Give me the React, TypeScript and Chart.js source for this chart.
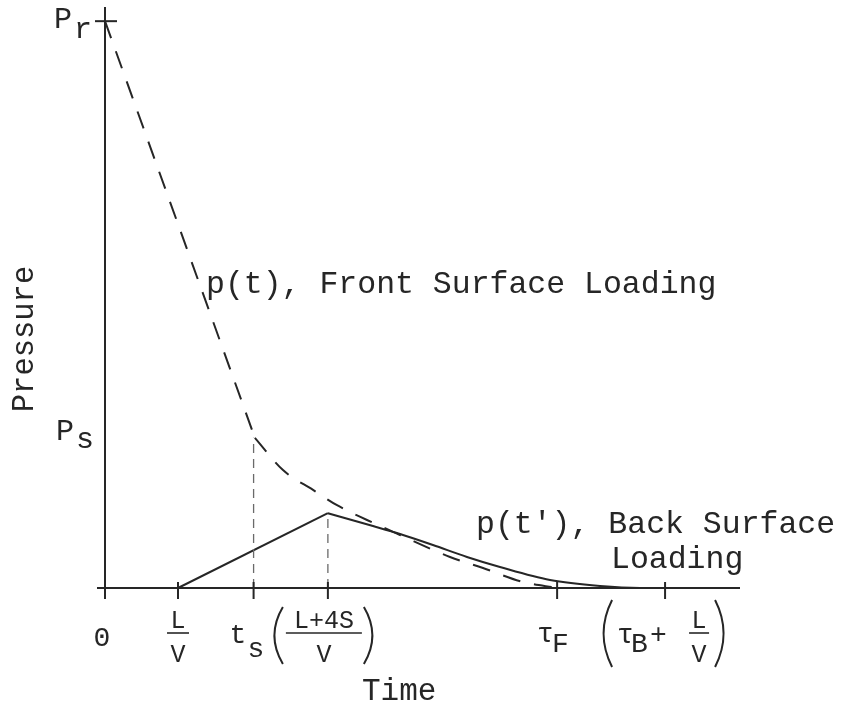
import React, { useEffect, useRef } from "react";
import { Chart, registerables } from "chart.js";

Chart.register(...registerables);

// ---- data (time in arbitrary units, pressure normalised to P_r = 1) ----
const xTickValues = [0, 1.15, 2.34, 3.51, 7.12, 8.82]; // 0, L/V, t_s, (L+4S)/V, τF, τB+L/V
const pressureR = 1.0;
const pressureS = 0.265;

// p(t), front surface loading (dashed)
const frontUpperT = [0, 2.36];
const frontUpperP = [1.0, 0.265];
const frontLowerT = [2.36, 2.803, 3.276, 3.654, 4.126, 4.646, 5.433, 5.953, 6.583, 7.12];
const frontLowerP = [0.265, 0.208, 0.173, 0.146, 0.12, 0.0935, 0.0547, 0.0353, 0.0106, 0];

// p(t'), back surface loading (solid)
const backRiseT = [1.15, 3.51];
const backRiseP = [0, 0.132];
const backDecayT = [3.51, 4.22, 4.646, 5.165, 5.7, 6.22, 7.008, 7.795, 8.425, 8.82];
const backDecayP = [0.132, 0.1093, 0.0952, 0.0758, 0.0547, 0.037, 0.0141, 0.0035, 0, 0];

// guide lines
const guideTsT = [2.34, 2.34];
const guideTsP = [0, 0.265];
const guidePeakT = [3.51, 3.51];
const guidePeakP = [0, 0.132];

const X_MIN = 0;
const X_MAX = 10;
const Y_MIN = 0;
const Y_MAX = 1.025;

const FONT = "'Liberation Mono', 'DejaVu Sans Mono', monospace";
const INK = "#262626";

const pts = (xs: number[], ys: number[]) => xs.map((x, i) => ({ x, y: ys[i] }));

const annotationPlugin = {
  id: "diagramAnnotations",
  afterDraw(chart: any) {
    const ctx: CanvasRenderingContext2D = chart.ctx;
    const xs = chart.scales.x;
    const ys = chart.scales.y;
    const X = (v: number) => xs.getPixelForValue(v);
    const Y = (v: number) => ys.getPixelForValue(v);
    const x0 = X(0);
    const y0 = Y(0);

    const line = (ax: number, ay: number, bx: number, by: number) => {
      ctx.beginPath();
      ctx.moveTo(ax, ay);
      ctx.lineTo(bx, by);
      ctx.stroke();
    };
    const text = (s: string, x: number, y: number, size: number, align: CanvasTextAlign = "left") => {
      ctx.font = `${size}px ${FONT}`;
      ctx.textAlign = align;
      ctx.textBaseline = "alphabetic";
      ctx.fillText(s, x, y);
    };
    const paren = (x: number, top: number, bottom: number, dir: number) => {
      ctx.beginPath();
      ctx.moveTo(x, top);
      ctx.quadraticCurveTo(x + dir * 17, (top + bottom) / 2, x, bottom);
      ctx.stroke();
    };
    const frac = (num: string, den: string, cx: number, barW: number, size: number) => {
      text(num, cx, 628, size, "center");
      ctx.lineWidth = 1.6;
      line(cx - barW / 2, 633, cx + barW / 2, 633);
      text(den, cx, 662, size, "center");
    };

    ctx.save();
    ctx.strokeStyle = INK;
    ctx.fillStyle = INK;
    ctx.lineWidth = 2;

    // axes
    line(X(-0.126), y0, X(X_MAX), y0);
    line(x0, Y(Y_MAX), x0, y0 + 2);
    // P_r tick
    line(x0 - 10, Y(pressureR), x0 + 12, Y(pressureR));
    // time ticks
    xTickValues.forEach((t) => line(X(t), y0 - 6, X(t), y0 + 11));

    // y labels
    text("P", x0 - 51, Y(pressureR) + 7, 30);
    text("r", x0 - 31, Y(pressureR) + 17, 30);
    text("P", x0 - 49, Y(pressureS) + 2, 30);
    text("s", x0 - 29, Y(pressureS) + 10, 30);

    // axis titles
    ctx.save();
    ctx.translate(33, 339);
    ctx.rotate(-Math.PI / 2);
    text("Pressure", 0, 0, 30.5, "center");
    ctx.restore();
    text("Time", 362, 700, 31);

    // curve annotations
    text("p(t), Front Surface Loading", 206, 293, 31.5);
    text("p(t\u2032), Back Surface", 476, 533, 31.5);
    text("Loading", 611, 568, 31.5);

    // tick labels
    const xa = X(xTickValues[0]);
    const xb = X(xTickValues[1]);
    const xc = X(xTickValues[2]);
    const xd = X(xTickValues[3]);
    const xe = X(xTickValues[4]);
    const xf = X(xTickValues[5]);

    text("0", xa - 3, 646, 28, "center");

    frac("L", "V", xb, 22, 25);

    text("t", xc - 24, 643, 28);
    text("s", xc - 6, 657, 28);
    ctx.lineWidth = 2;
    paren(xd - 45, 607, 664, -1);
    frac("L+4S", "V", xd - 4, 76, 25);
    ctx.lineWidth = 2;
    paren(xd + 36, 607, 664, 1);

    text("\u03c4", xe - 20, 642, 28);
    text("F", xe - 5, 652, 28);

    ctx.lineWidth = 2;
    paren(xf - 53, 600, 667, -1);
    text("\u03c4", xf - 48, 643, 28);
    text("B", xf - 34, 652, 28);
    text("+", xf - 15, 643, 28);
    frac("L", "V", xf + 34, 20, 25);
    ctx.lineWidth = 2;
    paren(xf + 50, 600, 667, 1);

    ctx.restore();
  },
};

export default function App() {
  const canvasRef = useRef<HTMLCanvasElement | null>(null);

  useEffect(() => {
    if (!canvasRef.current) return;
    const dashed = {
      borderColor: INK,
      borderWidth: 2,
      borderDash: [18, 14],
      pointRadius: 0,
      fill: false,
      clip: false as any,
    };
    const solid = {
      borderColor: INK,
      borderWidth: 2,
      pointRadius: 0,
      fill: false,
      clip: false as any,
    };
    const guide = {
      borderColor: "#6a6a6a",
      borderWidth: 1.3,
      borderDash: [9, 6],
      pointRadius: 0,
      fill: false,
      clip: false as any,
    };
    const chart = new Chart(canvasRef.current, {
      type: "line",
      data: {
        datasets: [
          { ...guide, label: "t_s guide", data: pts(guideTsT, guideTsP), tension: 0 },
          { ...guide, label: "peak guide", data: pts(guidePeakT, guidePeakP), tension: 0 },
          { ...dashed, label: "p(t) upper", data: pts(frontUpperT, frontUpperP), tension: 0 },
          {
            ...dashed,
            label: "p(t) lower",
            data: pts(frontLowerT, frontLowerP),
            cubicInterpolationMode: "monotone",
          },
          { ...solid, label: "p(t') rise", data: pts(backRiseT, backRiseP), tension: 0 },
          {
            ...solid,
            label: "p(t') decay",
            data: pts(backDecayT, backDecayP),
            cubicInterpolationMode: "monotone",
          },
        ],
      },
      options: {
        animation: false,
        responsive: false,
        devicePixelRatio: 1,
        events: [],
        layout: { padding: { left: 105, right: 107, top: 7, bottom: 118 } },
        plugins: { legend: { display: false }, tooltip: { enabled: false }, title: { display: false } },
        scales: {
          x: { type: "linear", min: X_MIN, max: X_MAX, display: false },
          y: { type: "linear", min: Y_MIN, max: Y_MAX, display: false },
        },
      },
      plugins: [annotationPlugin],
    });
    return () => chart.destroy();
  }, []);

  return (
    <div style={{ position: "absolute", left: 0, top: 0, width: 847, height: 706, background: "#fff" }}>
      <canvas ref={canvasRef} width={847} height={706} style={{ display: "block" }} />
    </div>
  );
}
